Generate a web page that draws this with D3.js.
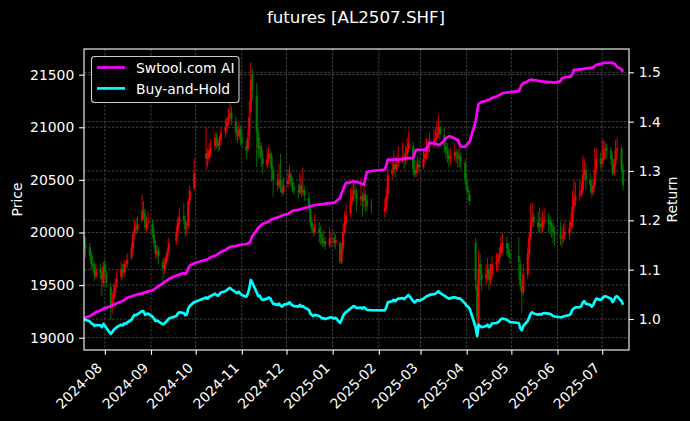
<!DOCTYPE html>
<html><head><meta charset="utf-8">
<script src="https://cdn.jsdelivr.net/npm/d3@7"></script>
<style>
html,body{margin:0;padding:0;background:#000;}
svg{display:block;font-family:"DejaVu Sans",sans-serif;}
</style></head><body>
<svg id="chart" width="690" height="421"></svg>
<script>
// ---------------- data ----------------
const chartTitle = "futures [AL2507.SHF]";
const seriesNames = ["Swtool.com AI", "Buy-and-Hold"];
const firstDay = "2024-07-18", lastDay = "2025-07-15";
const holidays = ["2024-09-16","2024-09-17","2024-10-01","2024-10-02","2024-10-03","2024-10-04","2024-10-07",
  "2025-01-01","2025-01-28","2025-01-29","2025-01-30","2025-01-31","2025-02-03","2025-02-04",
  "2025-04-04","2025-05-01","2025-05-02","2025-05-05","2025-06-02"];
const monthTicks = ["2024-08-01","2024-09-01","2024-10-01","2024-11-01","2024-12-01","2025-01-01",
  "2025-02-01","2025-03-01","2025-04-01","2025-05-01","2025-06-01","2025-07-01"];
const priceTicks = [19000,19500,20000,20500,21000,21500];
const returnTicks = [1.0,1.1,1.2,1.3,1.4,1.5];

const opens = [
 19950,19880,19860,19780,19700,19690,19580,19650,19620,19520,
 19700,19600,19480,19300,19360,19440,19520,19580,19660,19620,19690,19700,19760,19850,19990,20060,20030,20120,20220,20180,20040,20100,
 20080,19980,19880,19790,19830,19720,19650,19700,19760,19830,19920,20010,20100,20160,20120,20040,20060,20300,20420,
 20700,20760,20700,20770,20820,20900,20850,20820,20880,20960,21000,21060,21100,21140,21050,20950,20920,20990,
 20900,20820,20790,20920,21150,21500,21300,20950,20800,20820,20700,20640,20700,20750,20720,20600,20480,20450,20500,20420,20380,
 20460,20510,20550,20480,20430,20400,20380,20450,20380,20400,20330,20240,20100,20040,20000,20040,20000,19950,19900,19920,19880,19940,
 19950,19900,19900,19720,19850,20000,20100,20180,20300,20350,20400,20380,20320,20340,20300,20360,20300,20250,
 20200,20230,20360,20560,20600,20650,20600,20660,20700,20720,20680,20740,20800,20820,20600,20560,20600,20650,
 20620,20700,20750,20800,20820,20850,20880,20900,20950,21000,20930,20820,20780,20740,20700,20720,20760,20740,20700,20720,20660,
 20500,20400,20360,19900,19500,19100,19700,19600,19560,19600,19650,19550,19600,19700,19720,19750,19800,19880,19900,19850,19800,
 19780,19700,19500,19430,19600,19800,19950,20100,20150,20100,20050,20080,20050,20100,20120,20100,20080,20050,20000,
 19980,19950,19950,19980,20000,20040,20100,20250,20300,20360,20360,20400,20550,20600,20500,20450,20380,20450,20600,20700,
 20650,20700,20780,20800,20780,20700,20560,20650,20780,20800,20600];
const highs = [
 20010,19960,19900,19820,19780,19720,19700,19700,19660,19720,
 19740,19640,19520,19420,19520,19560,19640,19720,19700,19740,19730,19800,19900,20020,20120,20140,20160,20360,20300,20220,20150,20200,
 20120,20050,19920,19880,19860,19760,19760,19800,19860,19950,20060,20150,20230,20280,20160,20100,20320,20450,20700,
 21000,20800,20850,20880,20960,20940,20900,20920,21000,21080,21100,21180,21250,21200,21100,21000,21050,21020,
 20960,20880,20980,21250,21615,21560,21420,21000,20900,20860,20780,20800,20820,20790,20760,20640,20560,20650,20750,20500,20520,
 20600,20640,20580,20520,20480,20460,20560,20500,20620,20440,20380,20280,20150,20080,20180,20100,20060,20000,20020,19960,20050,20000,
 20000,19980,19920,19900,20080,20200,20280,20420,20480,20500,20460,20420,20520,20380,20440,20400,20360,20320,
 20320,20420,20600,20700,20780,20700,20720,20820,20860,20780,20820,20900,20960,20860,20700,20680,20720,20700,
 20780,20820,20900,20880,20950,20980,21000,21060,21120,21060,20990,20880,20850,20800,20800,20850,20800,20780,20800,20760,20700,
 20560,20440,20400,19950,19550,19830,19800,19700,19700,19760,19700,19700,19780,19800,19800,19860,19960,19990,19960,19900,19840,
 19960,19740,19550,19700,19860,20000,20280,20280,20200,20200,20240,20150,20200,20240,20180,20160,20120,20100,20060,
 20100,20050,20080,20110,20100,20180,20400,20500,20480,20500,20480,20730,20700,20660,20560,20500,20500,20810,20800,20760,
 20880,20880,20860,20840,20810,20740,20700,20880,20910,20820,20650];
const lows = [
 19820,19760,19740,19650,19620,19540,19560,19560,19390,19480,
 19580,19480,19180,19230,19320,19400,19480,19540,19560,19580,19620,19660,19740,19820,19950,19980,20000,20100,20120,20020,20000,20040,
 19950,19860,19760,19740,19700,19500,19600,19660,19720,19800,19880,19960,20060,20080,19960,19980,20040,20260,20400,
 20600,20620,20660,20720,20780,20800,20760,20780,20840,20900,20940,21020,21060,21020,20880,20850,20880,20830,
 20800,20700,20760,20880,21100,21250,20620,20700,20720,20620,20560,20600,20660,20620,20480,20340,20400,20420,20380,20340,20360,
 20420,20460,20430,20380,20360,20320,20360,20340,20360,20300,20200,20060,19990,19960,19980,19900,19880,19860,19860,19840,19850,19860,
 19860,19840,19700,19700,19820,19980,20060,20150,20260,20300,20300,20200,20250,20150,20240,20200,20200,20180,
 20140,20200,20320,20500,20560,20520,20580,20620,20660,20600,20640,20700,20760,20540,20520,20520,20560,20560,
 20600,20660,20700,20720,20760,20800,20820,20860,20900,20880,20760,20700,20660,20620,20640,20680,20660,20620,20620,20600,20460,
 20380,20300,20260,19450,19050,19015,19500,19450,19500,19540,19450,19500,19560,19620,19640,19700,19770,19800,19780,19760,19700,
 19550,19450,19230,19400,19560,19760,19920,20050,20050,20000,20000,19990,20000,20060,20000,19980,19950,19900,19870,
 19880,19860,19900,19930,19930,20000,20050,20200,20250,20300,20340,20380,20500,20400,20380,20330,20350,20420,20560,20600,
 20620,20660,20700,20700,20640,20540,20540,20620,20690,20560,20400];
const closes = [
 19880,19850,19780,19700,19680,19600,19640,19620,19550,19680,
 19620,19520,19280,19350,19450,19500,19560,19650,19620,19700,19680,19740,19850,19980,20050,20030,20080,20200,20180,20050,20080,20100,
 19980,19900,19800,19820,19780,19660,19700,19760,19820,19900,20000,20100,20150,20120,20030,20050,20300,20400,20560,
 20750,20700,20780,20800,20900,20850,20820,20880,20950,21000,21050,21100,21130,21080,20950,20920,20980,20900,
 20850,20780,20900,21100,21450,21350,20950,20800,20820,20700,20650,20700,20750,20720,20600,20500,20450,20500,20420,20380,20450,
 20500,20550,20480,20430,20400,20380,20450,20380,20400,20350,20250,20100,20040,20000,20050,20000,19950,19900,19920,19880,19940,19950,
 19900,19930,19720,19850,20000,20100,20160,20300,20350,20400,20380,20320,20340,20300,20360,20300,20250,20240,
 20230,20350,20550,20600,20650,20600,20650,20700,20720,20680,20740,20800,20850,20600,20550,20600,20650,20620,
 20700,20750,20800,20820,20850,20880,20900,20950,21000,20930,20820,20780,20740,20700,20720,20760,20740,20700,20720,20680,20500,
 20400,20380,20300,19550,19190,19650,19600,19550,19600,19650,19550,19600,19700,19720,19750,19800,19880,19900,19850,19800,19760,
 19720,19500,19430,19600,19800,19950,20100,20150,20100,20050,20080,20050,20100,20120,20100,20080,20050,20000,19980,
 19950,19950,19980,20000,20040,20100,20250,20300,20350,20360,20400,20550,20600,20500,20450,20380,20450,20600,20700,20650,
 20700,20780,20800,20780,20700,20560,20650,20780,20800,20600,20450];
const aiReturn = [
 1.000,1.003,1.006,1.008,1.010,1.012,1.014,1.017,1.019,1.021,
 1.022,1.023,1.026,1.028,1.029,1.030,1.032,1.035,1.037,1.039,1.041,1.043,1.046,1.047,1.048,1.049,1.050,1.052,1.053,1.054,1.055,1.056,
 1.058,1.060,1.062,1.065,1.067,1.072,1.075,1.077,1.079,1.081,1.088,1.089,1.090,1.093,1.091,1.095,1.102,1.108,1.113,
 1.120,1.121,1.123,1.125,1.128,1.130,1.132,1.134,1.136,1.140,1.142,1.144,1.146,1.147,1.148,1.149,1.150,1.150,
 1.151,1.152,1.153,1.154,1.160,1.168,1.180,1.185,1.187,1.190,1.193,1.196,1.198,1.200,1.202,1.203,1.206,1.207,1.208,1.210,1.211,
 1.213,1.215,1.217,1.219,1.220,1.221,1.222,1.223,1.224,1.225,1.227,1.228,1.229,1.230,1.231,1.232,1.232,1.233,1.233,1.234,1.235,1.235,
 1.236,1.238,1.245,1.255,1.262,1.270,1.276,1.277,1.278,1.279,1.278,1.278,1.275,1.273,1.272,1.285,1.298,1.300,
 1.303,1.312,1.323,1.323,1.323,1.324,1.323,1.323,1.324,1.325,1.325,1.326,1.326,1.326,1.335,1.343,1.343,1.343,
 1.343,1.343,1.345,1.350,1.357,1.356,1.355,1.354,1.353,1.353,1.362,1.366,1.368,1.370,1.370,1.366,1.364,1.363,1.356,1.350,1.349,
 1.352,1.356,1.360,1.400,1.420,1.436,1.438,1.440,1.442,1.444,1.444,1.446,1.448,1.451,1.452,1.454,1.456,1.458,1.459,1.459,1.460,
 1.462,1.468,1.475,1.478,1.482,1.484,1.485,1.485,1.484,1.483,1.482,1.482,1.481,1.481,1.480,1.480,1.480,1.479,1.479,
 1.482,1.488,1.489,1.490,1.491,1.491,1.497,1.505,1.505,1.506,1.506,1.507,1.507,1.508,1.509,1.509,1.510,1.513,1.515,1.517,
 1.518,1.519,1.519,1.519,1.519,1.519,1.518,1.515,1.511,1.506,1.501];

// ---------------- build ----------------
const hol = new Set(holidays);
const dates = [];
for (let t = new Date(firstDay + "T00:00:00Z"); t <= new Date(lastDay + "T00:00:00Z"); t = new Date(t.getTime() + 86400000)) {
  const dow = t.getUTCDay(), s = t.toISOString().slice(0, 10);
  if (dow !== 0 && dow !== 6 && !hol.has(s)) dates.push(new Date(t));
}
const n = Math.min(dates.length, opens.length, highs.length, lows.length, closes.length, aiReturn.length);
const rows = d3.range(n).map(i => ({date: dates[i], o: opens[i], h: highs[i], l: lows[i], c: closes[i],
  ai: aiReturn[i], bh: closes[i] / closes[0]}));

const L = 84, R = 629, T = 49, B = 350;
const fs = 13.9, tick = 4.86, lw = 2.7;
const svg = d3.select("#chart");
svg.append("rect").attr("width", 690).attr("height", 421).attr("fill", "#000");

const x = d3.scaleUtc().domain([new Date(Date.UTC(2024, 6, 18)), new Date(Date.UTC(2025, 6, 19))]).range([L, R]);
const yP = d3.scaleLinear().domain([18883, 21744]).range([B, T]);
const yR = d3.scaleLinear().domain([0.9372, 1.5472]).range([B, T]);
const monthDates = monthTicks.map(s => new Date(s + "T00:00:00Z"));

svg.append("defs").append("clipPath").attr("id", "clip")
  .append("rect").attr("x", L).attr("y", T).attr("width", R - L).attr("height", B - T);

// grid
const grid = svg.append("g").attr("stroke", "#5a5a5a").attr("stroke-width", 0.7).attr("stroke-dasharray", "2.6,1.4");
grid.selectAll(".gx").data(monthDates).join("line").attr("x1", d => x(d)).attr("x2", d => x(d)).attr("y1", T).attr("y2", B);
grid.selectAll(".gp").data(priceTicks).join("line").attr("x1", L).attr("x2", R).attr("y1", d => yP(d)).attr("y2", d => yP(d));
grid.selectAll(".gr").data(returnTicks).join("line").attr("x1", L).attr("x2", R).attr("y1", d => yR(d)).attr("y2", d => yR(d));

// candles
const cg = svg.append("g").attr("clip-path", "url(#clip)");
const col = d => d.c >= d.o ? "#ff0000" : "#008000";
cg.selectAll(".wick").data(rows).join("line")
  .attr("x1", d => x(d.date)).attr("x2", d => x(d.date))
  .attr("y1", d => yP(d.h)).attr("y2", d => yP(d.l))
  .attr("stroke", col).attr("stroke-width", 1).attr("opacity", 0.85);
cg.selectAll(".body").data(rows).join("rect")
  .attr("x", d => x(d.date) - 1.1).attr("width", 2.2)
  .attr("y", d => yP(Math.max(d.o, d.c)))
  .attr("height", d => Math.max(1, Math.abs(yP(d.o) - yP(d.c))))
  .attr("fill", col).attr("opacity", 0.85);

// lines
const lg = svg.append("g").attr("clip-path", "url(#clip)");
lg.append("path").datum(rows).attr("fill", "none").attr("stroke", "#ff00ff").attr("stroke-width", lw)
  .attr("stroke-linejoin", "round")
  .attr("d", d3.line().x(d => x(d.date)).y(d => yR(d.ai)));
lg.append("path").datum(rows).attr("fill", "none").attr("stroke", "#00ffff").attr("stroke-width", lw)
  .attr("stroke-linejoin", "round")
  .attr("d", d3.line().x(d => x(d.date)).y(d => yR(d.bh)));

// axes
function styleAxis(g) {
  g.select(".domain").remove();
  g.selectAll(".tick line").attr("stroke", "#fff").attr("stroke-width", 1.1);
  g.selectAll(".tick text").attr("fill", "#fff").style("font-size", fs + "px").style("font-family", "DejaVu Sans");
}
const ax = svg.append("g").attr("transform", `translate(0,${B})`)
  .call(d3.axisBottom(x).tickValues(monthDates).tickFormat(d3.utcFormat("%Y-%m")).tickSize(tick).tickPadding(tick))
  .call(styleAxis);
ax.selectAll(".tick text").attr("y", null).attr("dy", null).attr("x", null)
  .attr("transform", "translate(-2.3,18.8) rotate(-45)").style("text-anchor", "end");
svg.append("g").attr("transform", `translate(${L},0)`)
  .call(d3.axisLeft(yP).tickValues(priceTicks).tickFormat(d3.format("d")).tickSize(tick).tickPadding(tick))
  .call(styleAxis);
svg.append("g").attr("transform", `translate(${R},0)`)
  .call(d3.axisRight(yR).tickValues(returnTicks).tickFormat(d3.format(".1f")).tickSize(tick).tickPadding(tick))
  .call(styleAxis);

// spines
svg.append("rect").attr("x", L).attr("y", T).attr("width", R - L).attr("height", B - T)
  .attr("fill", "none").attr("stroke", "#fff").attr("stroke-width", 1.1);

// labels
svg.append("text").attr("x", 356).attr("y", 23).attr("text-anchor", "middle").attr("fill", "#fff")
  .style("font-size", "16.67px").text(chartTitle);
svg.append("text").attr("transform", "translate(21.5,199.5) rotate(-90)").attr("text-anchor", "middle")
  .attr("fill", "#fff").style("font-size", fs + "px").text("Price");
svg.append("text").attr("transform", "translate(676.5,199.5) rotate(-90)").attr("text-anchor", "middle")
  .attr("fill", "#fff").style("font-size", fs + "px").text("Return");

// legend
const leg = svg.append("g");
leg.append("rect").attr("x", 91.5).attr("y", 56.5).attr("width", 147.5).attr("height", 46).attr("rx", 3)
  .attr("fill", "#000").attr("fill-opacity", 0.8).attr("stroke", "#cccccc").attr("stroke-width", 1.1);
const legColors = ["#ff00ff", "#00ffff"];
seriesNames.forEach((name, i) => {
  const yy = 67.5 + i * 20.9;
  leg.append("line").attr("x1", 97).attr("x2", 125).attr("y1", yy).attr("y2", yy)
    .attr("stroke", legColors[i]).attr("stroke-width", lw);
  leg.append("text").attr("x", 136).attr("y", yy + 5.2).attr("fill", "#fff").style("font-size", fs + "px").text(name);
});
</script>
</body></html>
